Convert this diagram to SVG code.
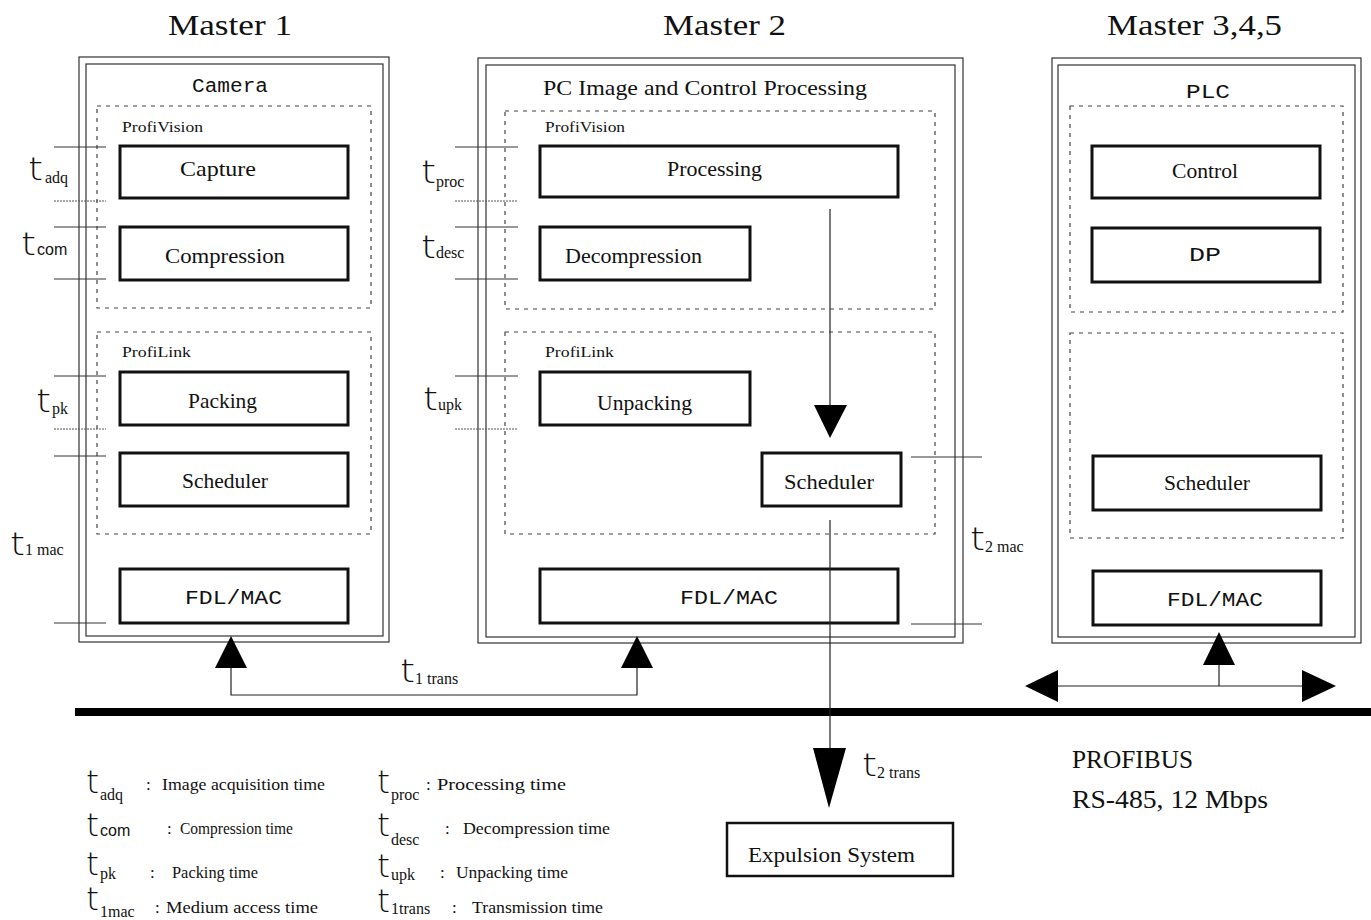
<svg xmlns="http://www.w3.org/2000/svg" width="1371" height="920" viewBox="0 0 1371 920">
<style>
.frame{fill:none;stroke:#333;stroke-width:1.2}
.dash{fill:none;stroke:#444;stroke-width:1.2;stroke-dasharray:4 5}
.box{fill:#fff;stroke:#111;stroke-width:3}
.tick{stroke:#333;stroke-width:1}
.dot{stroke:#555;stroke-width:1;stroke-dasharray:2 1}
.ln{stroke:#222;stroke-width:1.2;fill:none}
.head{fill:#000}
.title{font-family:"Liberation Serif",serif;font-size:30px;fill:#111}
.mono{font-family:"Liberation Mono",monospace;font-size:20px;fill:#111}
.lbl{font-family:"Liberation Serif",serif;font-size:21px;fill:#111}
.small{font-family:"Liberation Serif",serif;font-size:15px;fill:#111}
.tt{font-family:"DejaVu Sans","Liberation Sans",sans-serif;font-size:32px;fill:#111;font-weight:200}
.sub{font-family:"Liberation Serif",serif;font-size:16px;fill:#111}
.leg{font-family:"Liberation Serif",serif;font-size:17px;fill:#111}
.big{font-family:"Liberation Serif",serif;font-size:25px;fill:#111}
</style>
<rect width="1371" height="920" fill="#fff"/>

<g id="titles">
<text class="title" x="168" y="35" textLength="124" lengthAdjust="spacingAndGlyphs">Master 1</text>
<text class="title" x="663" y="35" textLength="123" lengthAdjust="spacingAndGlyphs">Master 2</text>
<text class="title" x="1107" y="35" textLength="175" lengthAdjust="spacingAndGlyphs">Master 3,4,5</text>
</g>

<g id="master1">
<rect class="frame" x="79" y="57" width="310" height="585"/>
<rect class="frame" x="86" y="64" width="297" height="572"/>
<text class="mono" x="192" y="92" textLength="76" lengthAdjust="spacingAndGlyphs">Camera</text>
<rect class="dash" x="97" y="106" width="274" height="202"/>
<text class="small" x="122" y="132" textLength="81" lengthAdjust="spacingAndGlyphs">ProfiVision</text>
<rect class="dash" x="97" y="332" width="274" height="202"/>
<text class="small" x="122" y="357" textLength="69" lengthAdjust="spacingAndGlyphs">ProfiLink</text>
</g>
<g id="m1-capture"><rect class="box" x="120" y="146" width="228" height="52"/><text class="lbl" x="180" y="176" textLength="76" lengthAdjust="spacingAndGlyphs">Capture</text></g>
<g id="m1-compression"><rect class="box" x="120" y="227" width="228" height="53"/><text class="lbl" x="165" y="263" textLength="120" lengthAdjust="spacingAndGlyphs">Compression</text></g>
<g id="m1-packing"><rect class="box" x="120" y="372" width="228" height="53"/><text class="lbl" x="188" y="408" textLength="69" lengthAdjust="spacingAndGlyphs">Packing</text></g>
<g id="m1-scheduler"><rect class="box" x="120" y="453" width="228" height="53"/><text class="lbl" x="182" y="488" textLength="86" lengthAdjust="spacingAndGlyphs">Scheduler</text></g>
<g id="m1-fdl"><rect class="box" x="120" y="569" width="228" height="54"/><text class="mono" x="185" y="604" textLength="97" lengthAdjust="spacingAndGlyphs">FDL/MAC</text></g>

<g id="master2">
<rect class="frame" x="478" y="58" width="485" height="585"/>
<rect class="frame" x="486" y="65" width="469" height="572"/>
<text class="lbl" x="543" y="95" textLength="324" lengthAdjust="spacingAndGlyphs">PC Image and Control Processing</text>
<rect class="dash" x="505" y="111" width="430" height="198"/>
<text class="small" x="545" y="132" textLength="80" lengthAdjust="spacingAndGlyphs">ProfiVision</text>
<rect class="dash" x="505" y="332" width="430" height="202"/>
<text class="small" x="545" y="357" textLength="69" lengthAdjust="spacingAndGlyphs">ProfiLink</text>
</g>
<g id="m2-processing"><rect class="box" x="540" y="146" width="358" height="51"/><text class="lbl" x="667" y="176" textLength="95" lengthAdjust="spacingAndGlyphs">Processing</text></g>
<g id="m2-decompression"><rect class="box" x="540" y="227" width="210" height="53"/><text class="lbl" x="565" y="263" textLength="137" lengthAdjust="spacingAndGlyphs">Decompression</text></g>
<g id="m2-unpacking"><rect class="box" x="540" y="372" width="210" height="53"/><text class="lbl" x="597" y="410" textLength="95" lengthAdjust="spacingAndGlyphs">Unpacking</text></g>
<g id="m2-scheduler"><rect class="box" x="762" y="453" width="139" height="53"/><text class="lbl" x="784" y="489" textLength="90" lengthAdjust="spacingAndGlyphs">Scheduler</text></g>
<g id="m2-fdl"><rect class="box" x="540" y="569" width="358" height="54"/><text class="mono" x="680" y="604" textLength="98" lengthAdjust="spacingAndGlyphs">FDL/MAC</text></g>

<g id="master345">
<rect class="frame" x="1052" y="58" width="309" height="585"/>
<rect class="frame" x="1058" y="65" width="297" height="572"/>
<text class="mono" x="1186" y="98" textLength="44" lengthAdjust="spacingAndGlyphs">PLC</text>
<rect class="dash" x="1070" y="106" width="273" height="206"/>
<rect class="dash" x="1070" y="333" width="273" height="205"/>
</g>
<g id="m3-control"><rect class="box" x="1092" y="146" width="228" height="52"/><text class="lbl" x="1172" y="178" textLength="66" lengthAdjust="spacingAndGlyphs">Control</text></g>
<g id="m3-dp"><rect class="box" x="1092" y="228" width="228" height="54"/><text class="mono" x="1189" y="261" textLength="32" lengthAdjust="spacingAndGlyphs">DP</text></g>
<g id="m3-scheduler"><rect class="box" x="1093" y="456" width="228" height="54"/><text class="lbl" x="1164" y="490" textLength="86" lengthAdjust="spacingAndGlyphs">Scheduler</text></g>
<g id="m3-fdl"><rect class="box" x="1093" y="571" width="228" height="54"/><text class="mono" x="1167" y="606" textLength="96" lengthAdjust="spacingAndGlyphs">FDL/MAC</text></g>

<g id="expulsion"><rect class="box" x="727" y="823" width="226" height="53" style="stroke-width:2.5"/><text class="lbl" x="748" y="862" textLength="167" lengthAdjust="spacingAndGlyphs">Expulsion System</text></g>

<g id="timing-ticks">
<line class="tick" x1="54" y1="147" x2="106" y2="147"/>
<line class="dot" x1="54" y1="201" x2="106" y2="201"/>
<line class="tick" x1="54" y1="227" x2="106" y2="227"/>
<line class="tick" x1="54" y1="279" x2="106" y2="279"/>
<line class="tick" x1="54" y1="376" x2="106" y2="376"/>
<line class="dot" x1="54" y1="429" x2="106" y2="429"/>
<line class="tick" x1="54" y1="456" x2="106" y2="456"/>
<line class="tick" x1="54" y1="623" x2="106" y2="623"/>
<line class="tick" x1="455" y1="147" x2="518" y2="147"/>
<line class="dot" x1="455" y1="201" x2="518" y2="201"/>
<line class="tick" x1="455" y1="227" x2="518" y2="227"/>
<line class="tick" x1="455" y1="279" x2="518" y2="279"/>
<line class="tick" x1="455" y1="376" x2="518" y2="376"/>
<line class="dot" x1="455" y1="429" x2="518" y2="429"/>
<line class="tick" x1="911" y1="457" x2="982" y2="457"/>
<line class="tick" x1="911" y1="624" x2="982" y2="624"/>
</g>

<g id="timing-labels">
<text class="tt" x="28" y="180" textLength="15" lengthAdjust="spacingAndGlyphs">t</text><text class="sub" x="45" y="183">adq</text>
<text class="tt" x="21" y="255" textLength="15" lengthAdjust="spacingAndGlyphs">t</text><text class="sub" x="37" y="255" style="font-family:'Liberation Sans',sans-serif">com</text>
<text class="tt" x="36" y="412" textLength="15" lengthAdjust="spacingAndGlyphs">t</text><text class="sub" x="52" y="414">pk</text>
<text class="tt" x="10" y="555" textLength="15" lengthAdjust="spacingAndGlyphs">t</text><text class="sub" x="25" y="555">1 mac</text>
<text class="tt" x="421" y="183" textLength="15" lengthAdjust="spacingAndGlyphs">t</text><text class="sub" x="436" y="187">proc</text>
<text class="tt" x="421" y="258" textLength="15" lengthAdjust="spacingAndGlyphs">t</text><text class="sub" x="436" y="258">desc</text>
<text class="tt" x="423" y="410" textLength="15" lengthAdjust="spacingAndGlyphs">t</text><text class="sub" x="438" y="410">upk</text>
<text class="tt" x="970" y="550" textLength="15" lengthAdjust="spacingAndGlyphs">t</text><text class="sub" x="985" y="552">2 mac</text>
<text class="tt" x="400" y="682" textLength="15" lengthAdjust="spacingAndGlyphs">t</text><text class="sub" x="415" y="684">1 trans</text>
<text class="tt" x="862" y="776" textLength="15" lengthAdjust="spacingAndGlyphs">t</text><text class="sub" x="877" y="778">2 trans</text>
</g>

<g id="connectors">
<line x1="75" y1="712" x2="1371" y2="712" stroke="#000" stroke-width="8"/>
<line class="ln" x1="830" y1="209" x2="830" y2="406"/>
<polygon class="head" points="814,405 847,405 830,438"/>
<line class="ln" x1="830" y1="520" x2="830" y2="750"/>
<polygon class="head" points="813,748 846,748 829,808"/>
<polyline class="ln" points="231,666 231,695 637,695 637,666"/>
<polygon class="head" points="231,636 215,668 247,668"/>
<polygon class="head" points="637,636 621,668 653,668"/>
<line class="ln" x1="1219" y1="664" x2="1219" y2="686"/>
<polygon class="head" points="1219,632 1203,665 1235,665"/>
<line class="ln" x1="1055" y1="686" x2="1305" y2="686"/>
<polygon class="head" points="1025,686 1058,670 1058,702"/>
<polygon class="head" points="1336,686 1302,670 1302,702"/>
</g>

<g id="bus-label">
<text class="big" x="1072" y="768" textLength="121" lengthAdjust="spacingAndGlyphs">PROFIBUS</text>
<text class="big" x="1072" y="808" textLength="196" lengthAdjust="spacingAndGlyphs">RS-485, 12 Mbps</text>
</g>

<g id="legend">
<text class="tt" x="86" y="793" textLength="13" lengthAdjust="spacingAndGlyphs">t</text><text class="sub" x="100" y="800">adq</text>
<text class="leg" x="146" y="790">:</text><text class="leg" x="162" y="790" textLength="163" lengthAdjust="spacingAndGlyphs">Image acquisition time</text>
<text class="tt" x="86" y="836" textLength="13" lengthAdjust="spacingAndGlyphs">t</text><text class="sub" x="100" y="836" style="font-family:'Liberation Sans',sans-serif">com</text>
<text class="leg" x="167" y="834">:</text><text class="leg" x="180" y="834" textLength="113" lengthAdjust="spacingAndGlyphs">Compression time</text>
<text class="tt" x="86" y="875" textLength="13" lengthAdjust="spacingAndGlyphs">t</text><text class="sub" x="100" y="879">pk</text>
<text class="leg" x="150" y="878">:</text><text class="leg" x="172" y="878" textLength="86" lengthAdjust="spacingAndGlyphs">Packing time</text>
<text class="tt" x="86" y="910" textLength="13" lengthAdjust="spacingAndGlyphs">t</text><text class="sub" x="100" y="917">1mac</text>
<text class="leg" x="155" y="913">:</text><text class="leg" x="166" y="913" textLength="152" lengthAdjust="spacingAndGlyphs">Medium access time</text>
<text class="tt" x="377" y="793" textLength="13" lengthAdjust="spacingAndGlyphs">t</text><text class="sub" x="391" y="800">proc</text>
<text class="leg" x="426" y="790">:</text><text class="leg" x="437" y="790" textLength="129" lengthAdjust="spacingAndGlyphs">Processing time</text>
<text class="tt" x="377" y="836" textLength="13" lengthAdjust="spacingAndGlyphs">t</text><text class="sub" x="391" y="845">desc</text>
<text class="leg" x="445" y="834">:</text><text class="leg" x="463" y="834" textLength="147" lengthAdjust="spacingAndGlyphs">Decompression time</text>
<text class="tt" x="377" y="877" textLength="13" lengthAdjust="spacingAndGlyphs">t</text><text class="sub" x="391" y="880">upk</text>
<text class="leg" x="440" y="878">:</text><text class="leg" x="456" y="878" textLength="112" lengthAdjust="spacingAndGlyphs">Unpacking time</text>
<text class="tt" x="377" y="912" textLength="13" lengthAdjust="spacingAndGlyphs">t</text><text class="sub" x="391" y="914">1trans</text>
<text class="leg" x="452" y="913">:</text><text class="leg" x="472" y="913" textLength="131" lengthAdjust="spacingAndGlyphs">Transmission time</text>
</g>
</svg>
